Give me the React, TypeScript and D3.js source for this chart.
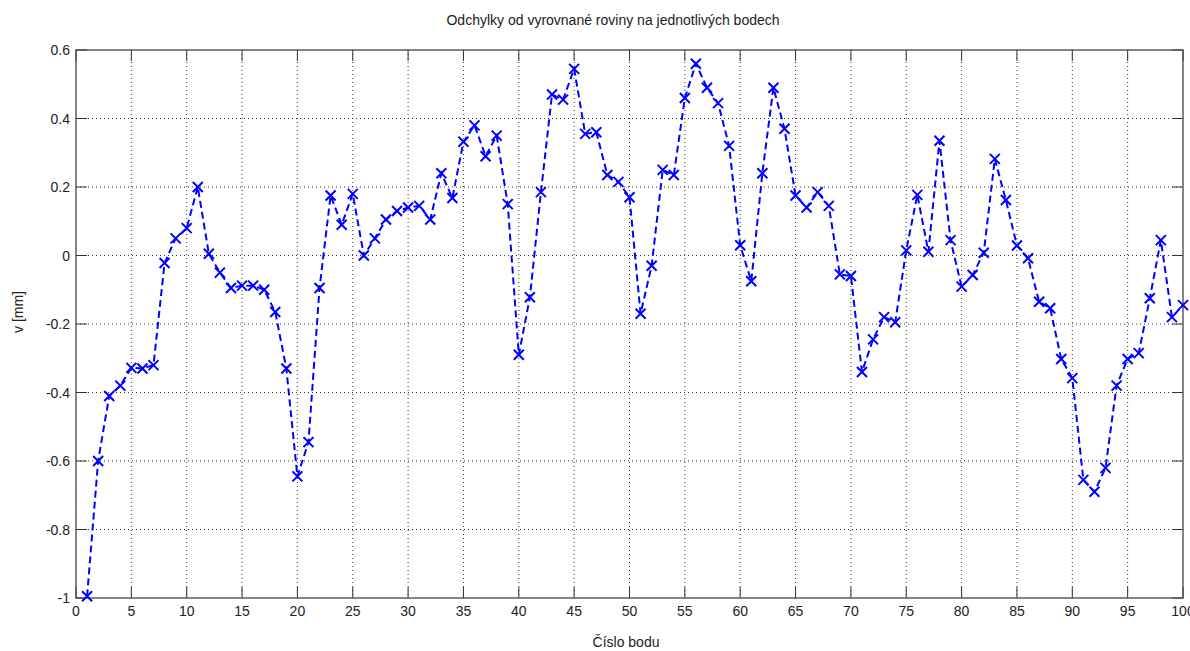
import * as d3 from "d3";

// point numbers 1..100 and deviations in mm
const points = d3.range(1, 101);
const deviations = [
  -0.995, -0.6, -0.41, -0.38, -0.328, -0.33, -0.32, -0.022, 0.05, 0.08,
  0.2, 0.005, -0.05, -0.095, -0.088, -0.088, -0.1, -0.165, -0.33, -0.645,
  -0.545, -0.095, 0.175, 0.09, 0.18, 0.0, 0.05, 0.105, 0.13, 0.14,
  0.145, 0.105, 0.24, 0.168, 0.332, 0.38, 0.29, 0.35, 0.15, -0.29,
  -0.122, 0.185, 0.47, 0.455, 0.545, 0.355, 0.36, 0.235, 0.215, 0.17,
  -0.17, -0.03, 0.25, 0.235, 0.46, 0.56, 0.49, 0.445, 0.32, 0.03,
  -0.075, 0.24, 0.49, 0.37, 0.175, 0.14, 0.185, 0.145, -0.055, -0.06,
  -0.34, -0.245, -0.18, -0.195, 0.015, 0.177, 0.011, 0.335, 0.045, -0.091,
  -0.057, 0.008, 0.282, 0.162, 0.029, -0.008, -0.135, -0.154, -0.302, -0.358,
  -0.655, -0.69, -0.62, -0.38, -0.302, -0.285, -0.125, 0.045, -0.18, -0.145,
];

const xTicks = d3.range(0, 101, 5);
const yTicks = [-1, -0.8, -0.6, -0.4, -0.2, 0, 0.2, 0.4, 0.6];

const title = "Odchylky od vyrovnané roviny na jednotlivých bodech";
const xLabel = "Číslo bodu";
const yLabel = "v [mm]";

const width = 1190;
const height = 651;
const margin = { top: 50, right: 7, bottom: 53, left: 76 };
const font = "'Liberation Sans', Arial, sans-serif";

export default function App() {
  const innerW = width - margin.left - margin.right;
  const innerH = height - margin.top - margin.bottom;

  const x = d3.scaleLinear().domain([0, 100]).range([0, innerW]);
  const y = d3.scaleLinear().domain([-1, 0.6]).range([innerH, 0]);

  const data = points.map((p, i) => ({ p, v: deviations[i] }));
  const line = d3
    .line<{ p: number; v: number }>()
    .x((d) => x(d.p))
    .y((d) => y(d.v));

  const tickLen = 11;
  const m = 5; // marker half size

  return (
    <svg
      width={width}
      height={height}
      style={{ position: "absolute", left: 0, top: 0, background: "#fff" }}
      fontFamily={font}
    >
      <text x={613} y={25} textAnchor="middle" fontSize={14} fill="#222">
        {title}
      </text>
      <g transform={`translate(${margin.left},${margin.top})`}>
        {/* grid */}
        {xTicks.slice(1, -1).map((t) => (
          <line
            key={"gx" + t}
            x1={x(t)}
            x2={x(t)}
            y1={0}
            y2={innerH}
            stroke="#333"
            strokeWidth={1}
            strokeDasharray="1,3"
          />
        ))}
        {yTicks.slice(1, -1).map((t) => (
          <line
            key={"gy" + t}
            x1={0}
            x2={innerW}
            y1={y(t)}
            y2={y(t)}
            stroke="#333"
            strokeWidth={1}
            strokeDasharray="1,3"
          />
        ))}

        {/* ticks on all four sides */}
        {xTicks.map((t) => (
          <g key={"tx" + t} stroke="#333" strokeWidth={1}>
            <line x1={x(t)} x2={x(t)} y1={innerH} y2={innerH - tickLen} />
            <line x1={x(t)} x2={x(t)} y1={0} y2={tickLen} />
          </g>
        ))}
        {yTicks.map((t) => (
          <g key={"ty" + t} stroke="#333" strokeWidth={1}>
            <line x1={0} x2={tickLen} y1={y(t)} y2={y(t)} />
            <line x1={innerW} x2={innerW - tickLen} y1={y(t)} y2={y(t)} />
          </g>
        ))}

        <rect
          x={0}
          y={0}
          width={innerW}
          height={innerH}
          fill="none"
          stroke="#444"
          strokeWidth={1.3}
        />

        {/* tick labels */}
        {xTicks.map((t) => (
          <text
            key={"lx" + t}
            x={x(t)}
            y={innerH + 18}
            textAnchor="middle"
            fontSize={14}
            fill="#222"
          >
            {t}
          </text>
        ))}
        {yTicks.map((t) => (
          <text
            key={"ly" + t}
            x={-6}
            y={y(t) + 5}
            textAnchor="end"
            fontSize={14}
            fill="#222"
          >
            {t}
          </text>
        ))}

        {/* data line */}
        <path
          d={line(data) || ""}
          fill="none"
          stroke="#0000ff"
          strokeWidth={2}
          strokeDasharray="7,4"
        />
        {data.map((d) => (
          <g key={"m" + d.p} stroke="#0000ff" strokeWidth={2}>
            <line x1={x(d.p) - m} x2={x(d.p) + m} y1={y(d.v) - m} y2={y(d.v) + m} />
            <line x1={x(d.p) - m} x2={x(d.p) + m} y1={y(d.v) + m} y2={y(d.v) - m} />
          </g>
        ))}
      </g>

      <text x={626} y={647} textAnchor="middle" fontSize={14} fill="#222">
        {xLabel}
      </text>
      <text
        transform={`translate(23,312) rotate(-90)`}
        textAnchor="middle"
        fontSize={14}
        fill="#222"
      >
        {yLabel}
      </text>
    </svg>
  );
}
